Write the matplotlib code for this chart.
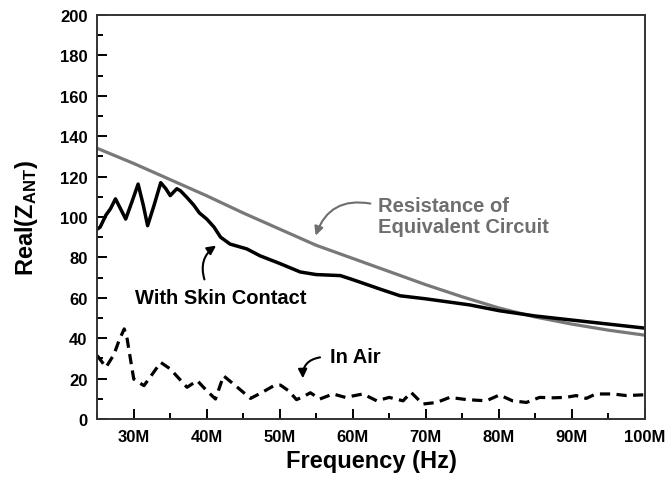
#!/usr/bin/env python

import matplotlib
matplotlib.use("Agg")
import matplotlib.pyplot as plt
from matplotlib.ticker import MultipleLocator, FuncFormatter

# frequency in MHz
skin_freq = [25, 25.4, 26.2, 26.8, 27.5, 28.2, 28.9, 29.8, 30.6, 31.3, 31.9,
             32.8, 33.7, 34.4, 35.0, 35.9, 36.4, 37.2, 38.2, 39.0, 40.0, 41.0,
             41.9, 43.2, 45.5, 47.3, 50, 52.8, 55, 58.3, 60, 62, 64, 66.5, 70,
             73, 76, 80.1, 85, 90, 95, 100]
skin_real = [94, 95, 101, 104, 109, 104, 99, 108, 116.3, 106, 95.7,
             106, 117, 114, 110.6, 114, 113, 110, 106, 102, 99, 95,
             90, 86.6, 84.2, 80.8, 77, 72.8, 71.5, 71, 69, 66.5, 64, 61, 59.5,
             58, 56.5, 53.6, 51, 49, 47, 45]

circuit_freq = [25, 30, 35, 40, 45, 50, 55, 60, 65, 70, 75, 80, 85, 90, 95, 100]
circuit_real = [134, 126.5, 118.5, 110.5, 102, 94, 86, 79.5, 73, 66.5, 60.5,
                55, 50.5, 47, 44, 41.5]

air_freq = [25, 26.2, 27.3, 28.0, 28.7, 29.1, 30.0, 31.4, 32.5, 33.7, 35.0,
            37.3, 38.7, 40.0, 41.2, 42.3, 44.2, 46.0, 47.5, 49.2, 50.1, 51.2,
            52.3, 53.2, 54.2, 55.5, 57.3, 59.0, 61.4, 63.3, 65.0, 66.9, 68.0,
            69.6, 71.5, 73.3, 75.6, 78.3, 80.1, 81.9, 83.8, 85.6, 87.5, 89.2,
            90.6, 92.0, 93.3, 95.6, 97.5, 100]
air_real = [31.4, 25.6, 32, 39, 44.6, 39.6, 19.8, 16.5, 22, 28, 24.8,
            15.7, 19, 14, 9.9, 21.4, 15.7, 10.2, 13, 16.5, 16.8, 14,
            9.6, 11, 13, 9.9, 12.4, 10.7, 12.4, 9, 10.7, 9, 13.2,
            7.4, 8.2, 10.7, 9.6, 9, 11.9, 9, 8.2, 10.7, 10.5, 10.7,
            11.6, 10.2, 12.4, 12.4, 11.6, 12]


def plot_impedance():
    plt.rcParams['font.family'] = ['Liberation Sans', 'DejaVu Sans']
    plt.rcParams['font.weight'] = 'bold'
    plt.rcParams['mathtext.fontset'] = 'custom'
    plt.rcParams['mathtext.rm'] = 'Liberation Sans:bold'
    plt.rcParams['mathtext.bf'] = 'Liberation Sans:bold'
    plt.rcParams['mathtext.default'] = 'bf'

    fig = plt.figure(figsize=(6.66, 4.85), dpi=100)
    ax = fig.add_axes([0.146, 0.134, 0.822, 0.833])

    grey = '#787878'
    ax.plot(circuit_freq, circuit_real, color=grey, lw=2.3)
    ax.plot(skin_freq, skin_real, color='black', lw=2.5)
    ax.plot(air_freq, air_real, color='black', lw=2.3, dashes=(3.2, 2.0))

    ax.set_xlim(25, 100)
    ax.set_ylim(0, 200)
    ax.xaxis.set_major_locator(MultipleLocator(10))
    ax.xaxis.set_minor_locator(MultipleLocator(5))
    ax.yaxis.set_major_locator(MultipleLocator(20))
    ax.yaxis.set_minor_locator(MultipleLocator(10))
    ax.xaxis.set_major_formatter(FuncFormatter(lambda v, p: '%dM' % v))
    ax.tick_params(which='both', direction='in', width=1.4, labelsize=12)
    ax.tick_params(which='major', length=7, pad=7)
    ax.tick_params(which='minor', length=4)
    for s in ax.spines.values():
        s.set_linewidth(1.4)
        s.set_color('#333333')

    ax.set_xlabel('Frequency (Hz)', fontsize=17, fontweight='bold', labelpad=4)
    ax.set_ylabel(r'Real(Z$_{ANT}$)', fontsize=17, fontweight='bold', labelpad=14)

    ax.text(63.45, 100.5, 'Resistance of\nEquivalent Circuit', color='#6e6e6e',
            fontsize=14.5, fontweight='bold', ha='left', va='center',
            linespacing=1.15)
    ax.annotate('', xy=(54.8, 89.5), xytext=(62.8, 106.4),
                arrowprops=dict(arrowstyle='-|>', color='#6e6e6e', lw=1.5,
                                mutation_scale=13,
                                connectionstyle='arc3,rad=0.45'))

    ax.text(41.9, 60.4, 'With Skin Contact', fontsize=14.5, fontweight='bold',
            ha='center', va='center')
    ax.annotate('', xy=(41.6, 86.6), xytext=(39.8, 67.8),
                arrowprops=dict(arrowstyle='-|>', color='black', lw=1.5,
                                mutation_scale=13,
                                connectionstyle='arc3,rad=-0.4'))

    ax.text(56.9, 30.7, 'In Air', fontsize=14.5, fontweight='bold',
            ha='left', va='center')
    ax.annotate('', xy=(53.2, 18.8), xytext=(55.9, 30.7),
                arrowprops=dict(arrowstyle='-|>', color='black', lw=1.5,
                                mutation_scale=13,
                                connectionstyle='arc3,rad=0.5'))

    fig.savefig('out.png', dpi=100)


if __name__ == '__main__':
    plot_impedance()
